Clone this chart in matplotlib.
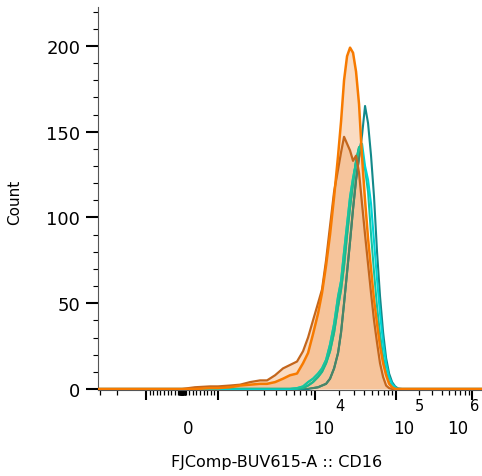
import numpy as np
import matplotlib
matplotlib.use('Agg')
import matplotlib.pyplot as plt
import matplotlib.transforms as mtransforms
from matplotlib.ticker import FixedLocator, NullFormatter

# x positions of histogram points: a few in the linear zone, the rest as log10(value)
low_vals = [-3125, 0, 360, 780]
log_vals = [3.0, 3.124, 3.227, 3.33, 3.433, 3.505, 3.588, 3.67, 3.742, 3.814,
            3.876, 3.928, 3.979, 4.037, 4.086, 4.136, 4.185, 4.235, 4.284, 4.321,
            4.358, 4.395, 4.432, 4.469, 4.506, 4.543, 4.58, 4.617, 4.654, 4.691,
            4.728, 4.765, 4.802, 4.84, 4.877, 4.914, 4.951, 4.988, 5.026, 5.079,
            5.316, 6.13]

orange = [0, 0, 0, 0.5,
          0.5, 1, 2, 2.5, 3, 3, 4, 6, 8, 9,
          15, 21, 32, 44, 56, 72, 90, 112, 136, 156,
          180, 194, 199, 196, 185, 166, 135, 110, 88, 70,
          52, 38, 25, 15, 8, 3, 1, 0, 0, 0,
          0, 0]
brown = [0, 0, 1, 1.5,
         1.5, 2, 2.5, 4, 5, 5, 8, 12, 14, 16,
         22, 30, 40, 50, 58, 75, 95, 115, 128, 138,
         147, 143, 139, 133, 136, 126, 108, 90, 73, 56,
         40, 27, 15, 7, 2, 0.5, 0, 0, 0, 0,
         0, 0]
dark_teal = [0, 0, 0, 0,
             0, 0, 0, 0, 0, 0, 0, 0, 0, 0,
             0, 0, 0.5, 1, 2, 3, 6, 12, 21, 33,
             50, 68, 86, 105, 122, 135, 148, 165, 155, 136,
             112, 80, 54, 33, 18, 9, 4, 1.5, 0.3, 0,
             0, 0]
cyan = [0, 0, 0, 0,
        0, 0, 0, 0, 0, 0, 0, 0, 0, 0.5,
        1.5, 4, 6, 9, 12, 17, 26, 38, 54, 63,
        80, 96, 112, 123, 132, 140, 143, 130, 122, 108,
        86, 64, 44, 27, 15, 7, 3, 1, 0, 0,
        0, 0]
turquoise = [0, 0, 0, 0,
             0, 0, 0, 0, 0, 0, 0, 0, 0, 0,
             0.5, 2, 4, 7, 10, 15, 22, 33, 48, 58,
             72, 90, 106, 120, 133, 141, 138, 128, 115, 90,
             68, 48, 32, 19, 10, 4, 1.5, 0.3, 0, 0,
             0, 0]

x = np.concatenate([low_vals, 10 ** np.array(log_vals)])

# FlowJo-like biex axis: linear inside +-1000, log decades outside
dec_log = [3, 4, 5, 6, 7]
dec_px = [36, 133, 214, 290, 366]


def fwd(v):
    v = np.asarray(v, dtype=float)
    a = np.abs(v)
    out = np.where(a <= 1000, a * 0.036,
                   np.interp(np.log10(np.maximum(a, 1000)), dec_log, dec_px))
    return np.sign(v) * out


def inv(d):
    d = np.asarray(d, dtype=float)
    a = np.abs(d)
    out = np.where(a <= 36, a / 0.036, 10 ** np.interp(a, dec_px, dec_log))
    return np.sign(d) * out


fig = plt.figure(figsize=(4.82, 4.77), dpi=100)
ax = fig.add_axes([98 / 482, 1 - 391 / 477, 384 / 482, 383 / 477])
ax.set_xscale('function', functions=(fwd, inv))
ax.set_xlim(-3125, 1.35e6)
ax.set_ylim(-0.6, 222.7)

fill_col = '#f0964b'
poly_o = ax.fill_between(x, 0, orange, color=fill_col, alpha=0.33, lw=0, zorder=1)
ax.fill_between(x, 0, brown, color=fill_col, alpha=0.33, lw=0, zorder=1)

# teal lines, plus a tinted copy where they sit under the orange fill
teal = [(dark_teal, '#12898a', '#4b8566'),
        (turquoise, '#14c4a4', '#22b58a'),
        (cyan, '#00d4d4', '#1cc39a')]
clip = poly_o.get_paths()[0]
for ys, col, tint in teal:
    ax.plot(x, ys, color=col, lw=1.5, zorder=2)
    ln, = ax.plot(x, ys, color=tint, lw=1.5, zorder=2.5)
    ln.set_clip_path(clip, ax.transData)

ax.plot(x, brown, color='#c4661c', lw=1.6, zorder=3)
ax.plot(x, orange, color='#f77a00', lw=1.8, zorder=3.5)

for s in ['top', 'right']:
    ax.spines[s].set_visible(False)
ax.spines['left'].set_color('#555555')
ax.spines['left'].set_linewidth(0.8)
ax.spines['bottom'].set_color('#555555')
ax.spines['bottom'].set_linewidth(0.8)

# y axis
ax.yaxis.set_major_locator(FixedLocator([0, 50, 100, 150, 200]))
ax.yaxis.set_minor_locator(FixedLocator([v for v in range(10, 230, 10) if v % 50]))
ax.tick_params(axis='y', which='major', length=8.5, width=1.5, labelsize=13, pad=4.3)
ax.tick_params(axis='y', which='minor', length=3.6, width=0.8)

# x axis ticks
major_x = [-1000, 1000, 1e4, 1e5, 1e6]
minor_x = []
for k in range(0, 6):
    for m in range(1, 10):
        for sgn in (1, -1):
            v = sgn * m * 10 ** k
            if -3125 <= v <= 1.35e6 and v not in major_x:
                minor_x.append(v)
ax.xaxis.set_major_locator(FixedLocator(major_x))
ax.xaxis.set_minor_locator(FixedLocator(minor_x))
ax.xaxis.set_major_formatter(NullFormatter())
ax.xaxis.set_minor_formatter(NullFormatter())
ax.tick_params(axis='x', which='major', length=7.5, width=1.5)
ax.tick_params(axis='x', which='minor', length=3.6, width=0.9)

# x tick labels drawn as text (base and exponent)
btrans = mtransforms.blended_transform_factory(ax.transData, ax.transAxes)
base_y = (391 - 434) / 383
exp_y = (391 - 411) / 383
ax.text(0, base_y, '0', fontsize=12, ha='center', va='baseline',
        transform=mtransforms.offset_copy(btrans, fig=fig, x=6.5, y=0, units='dots'))
for val, exp, dx_base, dx_exp in [(1e4, '4', -2, 20), (1e5, '5', -3, 19), (1e6, '6', -25, -2)]:
    ax.text(val, base_y, '10', fontsize=12, ha='left', va='baseline',
            transform=mtransforms.offset_copy(btrans, fig=fig, x=dx_base, y=0, units='dots'))
    ax.text(val, exp_y, exp, fontsize=10.5, ha='left', va='baseline',
            transform=mtransforms.offset_copy(btrans, fig=fig, x=dx_exp, y=0, units='dots'))

fig.text(15 / 482, 1 - 202 / 477, 'Count', rotation=90, ha='center', va='center', fontsize=11)
fig.text(277 / 482, 1 - 463 / 477, 'FJComp-BUV615-A :: CD16', ha='center', va='center', fontsize=11.5)

fig.savefig('out.png', dpi=100)
